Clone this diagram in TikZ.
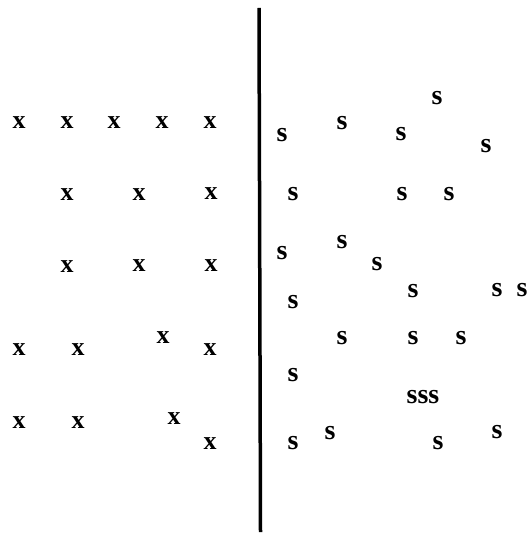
\documentclass[tikz,border=0pt]{standalone}
\usepackage{fontspec}
\setmainfont{Liberation Serif}

\begin{document}
\begin{tikzpicture}[x=1bp,y=-1bp,
        sym/.style={inner sep=0pt,font=\bfseries\fontsize{26}{26}\selectfont},
        ssym/.style={sym,font=\bfseries\fontsize{28}{28}\selectfont}]
            \useasboundingbox (0,0) rectangle (531,534);
            \def\w{3.5bp}

            % left side
            \foreach \px/\py [count=\k] in {19/123,67/123,114/123,162/123,210/123,
                67/195,139/195,211/194,
                67/267,139/266,211/266,
                19/350,78/350,163/338,210/350,
                19/423,78/423,174/419,210/444}{
                \node[sym] (x\k) at (\px,\py) {x};
            }

            % right side
            \foreach \px/\py [count=\k] in {437/98,342/123,282/135,401/134,486/146,
                293/194,402/194,449/194,
                282/253,342/242,377/264,
                413/291,497/290,522/290,293/302,
                342/338,413/338,461/338,293/375,
                293/443,330/433,438/443,497/432}{
                \node[ssym] (s\k) at (\px,\py) {s};
            }
            \node[ssym] (sss) at (423,397) {sss};

            \coordinate (top) at (259,8);
            \coordinate (bot) at (260.5,532);
            \draw[line width=\w] (top) -- (bot);

        \end{tikzpicture}
\end{document}
